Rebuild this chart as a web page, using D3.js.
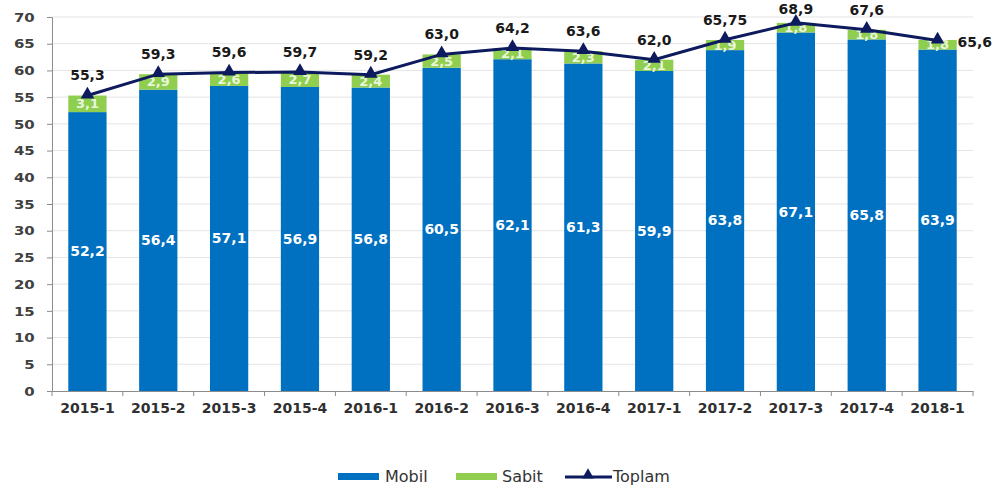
<!DOCTYPE html>
<html><head><meta charset="utf-8">
<script src="https://cdn.jsdelivr.net/npm/d3@7"></script>
<style>body{margin:0;background:#fff}</style>
</head><body>
<svg id="c" width="1001" height="487"></svg>
<script>
const categories = ["2015-1","2015-2","2015-3","2015-4","2016-1","2016-2","2016-3","2016-4","2017-1","2017-2","2017-3","2017-4","2018-1"];
const mobil  = [52.2,56.4,57.1,56.9,56.8,60.5,62.1,61.3,59.9,63.8,67.1,65.8,63.9];
const sabit  = [3.1,2.9,2.6,2.7,2.4,2.5,2.1,2.3,2.1,1.9,1.8,1.8,1.8];
const toplam = [55.3,59.3,59.6,59.7,59.2,63.0,64.2,63.6,62.0,65.75,68.9,67.6,65.6];
const yTicks = [0,5,10,15,20,25,30,35,40,45,50,55,60,65,70];

const fmt = v => (Number.isInteger(v*10) ? v.toFixed(1) : String(v)).replace('.', ',');

const svg = d3.select("#c");
const L = 52, R = 973, T = 17, B = 391;
const x = d3.scaleBand().domain(categories).range([L, R]).paddingInner(0.46).paddingOuter(0.23);
const y = d3.scaleLinear().domain([0, 70]).range([B, T]);
const FONT = "'DejaVu Sans', Verdana, sans-serif";

// gridlines
svg.append("g").selectAll("line").data(yTicks.filter(d => d > 0)).join("line")
  .attr("x1", L).attr("x2", R).attr("y1", d => y(d)).attr("y2", d => y(d))
  .attr("stroke", "#e4e4e4").attr("stroke-width", 1);

// y axis
const ya = svg.append("g").attr("transform", `translate(${L},0)`)
  .call(d3.axisLeft(y).tickValues(yTicks).tickSize(5).tickPadding(14).tickFormat(d3.format("d")));
ya.select(".domain").attr("stroke", "#8c8c8c");
ya.selectAll(".tick line").attr("stroke", "#8c8c8c");
ya.selectAll("text").attr("font-family", FONT).attr("font-size", 13).attr("font-weight", "bold")
  .attr("fill", "#404040").attr("transform", "scale(1.15,1)").attr("x", -15);

// x axis
const xa = svg.append("g").attr("transform", `translate(0,${B})`)
  .call(d3.axisBottom(x).tickSize(0).tickPadding(12));
xa.select(".domain").attr("stroke", "#8c8c8c");
xa.selectAll("text").attr("font-family", FONT).attr("font-size", 14).attr("font-weight", "bold")
  .attr("fill", "#303030");
const bounds = d3.range(categories.length + 1).map(i => L + i * (R - L) / categories.length);
svg.append("g").selectAll("line").data(bounds).join("line")
  .attr("x1", d => d).attr("x2", d => d).attr("y1", B).attr("y2", B + 5)
  .attr("stroke", "#8c8c8c");

// bars
const g = svg.append("g");
g.selectAll(".m").data(categories).join("rect").attr("class", "m")
  .attr("x", d => x(d)).attr("width", x.bandwidth())
  .attr("y", (d, i) => y(mobil[i])).attr("height", (d, i) => y(0) - y(mobil[i]))
  .attr("fill", "#0070c0");
g.selectAll(".s").data(categories).join("rect").attr("class", "s")
  .attr("x", d => x(d)).attr("width", x.bandwidth())
  .attr("y", (d, i) => y(mobil[i] + sabit[i])).attr("height", (d, i) => y(mobil[i]) - y(mobil[i] + sabit[i]))
  .attr("fill", "#8fce4f");

// bar labels
g.selectAll(".ml").data(categories).join("text")
  .attr("x", d => x(d) + x.bandwidth() / 2).attr("y", (d, i) => y(mobil[i] / 2))
  .attr("dy", "0.35em").attr("text-anchor", "middle")
  .attr("font-family", FONT).attr("font-size", 14).attr("font-weight", "bold").attr("fill", "#ffffff")
  .text((d, i) => fmt(mobil[i]));
g.selectAll(".sl").data(categories).join("text")
  .attr("x", d => x(d) + x.bandwidth() / 2).attr("y", (d, i) => y(mobil[i] + sabit[i] / 2))
  .attr("dy", "0.35em").attr("text-anchor", "middle")
  .attr("font-family", FONT).attr("font-size", 13).attr("font-weight", "bold").attr("fill", "#eaf6dc")
  .text((d, i) => fmt(sabit[i]));

// line
const cx = d => x(d) + x.bandwidth() / 2;
const line = d3.line().x((d, i) => cx(categories[i])).y(d => y(d));
svg.append("path").datum(toplam).attr("d", line).attr("fill", "none")
  .attr("stroke", "#0d1b5e").attr("stroke-width", 3);
const tri = d3.symbol().type(d3.symbolTriangle).size(80);
svg.append("g").selectAll("path").data(toplam).join("path")
  .attr("d", tri).attr("fill", "#0d1b5e")
  .attr("transform", (d, i) => `translate(${cx(categories[i])},${y(d) - 1})`);

// total labels
const last = categories.length - 1;
svg.append("g").selectAll("text").data(toplam).join("text")
  .attr("x", (d, i) => i === last ? cx(categories[i]) + 20 : cx(categories[i]))
  .attr("y", (d, i) => i === last ? y(d) + 2 : Math.max(9, y(d) - 20))
  .attr("dy", "0.35em")
  .attr("text-anchor", (d, i) => i === last ? "start" : "middle")
  .attr("font-family", FONT).attr("font-size", 14).attr("font-weight", "bold").attr("fill", "#1a1a1a")
  .text(d => fmt(d));

// legend
const lg = svg.append("g").attr("font-family", FONT).attr("font-size", 16).attr("fill", "#333");
lg.append("rect").attr("x", 338).attr("y", 473).attr("width", 41).attr("height", 7).attr("fill", "#0070c0");
lg.append("text").attr("x", 385).attr("y", 476).attr("dy", "0.35em").text("Mobil");
lg.append("rect").attr("x", 456).attr("y", 473).attr("width", 41).attr("height", 7).attr("fill", "#8fce4f");
lg.append("text").attr("x", 502).attr("y", 476).attr("dy", "0.35em").text("Sabit");
lg.append("line").attr("x1", 565).attr("x2", 612).attr("y1", 477).attr("y2", 477).attr("stroke", "#0d1b5e").attr("stroke-width", 3);
lg.append("path").attr("d", d3.symbol().type(d3.symbolTriangle).size(60)).attr("fill", "#0d1b5e").attr("transform", "translate(588,475)");
lg.append("text").attr("x", 613).attr("y", 476).attr("dy", "0.35em").text("Toplam");
</script>
</body></html>
